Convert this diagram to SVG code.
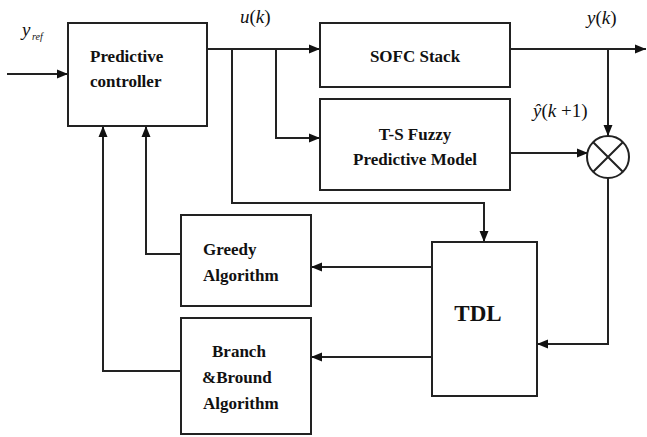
<svg xmlns="http://www.w3.org/2000/svg" width="647" height="437" viewBox="0 0 647 437">
<style>
.box{fill:#fff;stroke:#222;stroke-width:2}
.ln{fill:none;stroke:#222;stroke-width:2}
</style>
<defs>
<marker id="ar" markerUnits="userSpaceOnUse" markerWidth="12" markerHeight="10" refX="11" refY="5" orient="auto">
<path d="M0,0.5 L11,5 L0,9.5 z" fill="#111"/>
</marker>
</defs>
<rect width="647" height="437" fill="#fff"/>
<g id="connectors">
<path class="ln" d="M7,74 H68" marker-end="url(#ar)"/>
<path class="ln" d="M207,49 H320" marker-end="url(#ar)"/>
<path class="ln" d="M232,49 V203 H484 V242" marker-end="url(#ar)"/>
<path class="ln" d="M276,49 V138 H320" marker-end="url(#ar)"/>
<path class="ln" d="M510,49 H646" marker-end="url(#ar)"/>
<path class="ln" d="M608,49 V136" marker-end="url(#ar)"/>
<path class="ln" d="M510,153 H588" marker-end="url(#ar)"/>
<path class="ln" d="M608,178 V344 H537" marker-end="url(#ar)"/>
<path class="ln" d="M432,267 H311" marker-end="url(#ar)"/>
<path class="ln" d="M432,357 H311" marker-end="url(#ar)"/>
<path class="ln" d="M181,254 H146 V126" marker-end="url(#ar)"/>
<path class="ln" d="M181,371 H103 V126" marker-end="url(#ar)"/>
</g>
<g id="labels" font-family="Liberation Serif, Times New Roman, serif" font-size="19" fill="#111">
<text x="22" y="36" font-style="italic">y</text>
<text x="32" y="40" font-style="italic" font-size="10">ref</text>
<text x="240" y="23"><tspan font-style="italic">u</tspan>(<tspan font-style="italic">k</tspan>)</text>
<text x="587" y="24"><tspan font-style="italic">y</tspan>(<tspan font-style="italic">k</tspan>)</text>
<text x="533" y="117"><tspan font-style="italic">ŷ</tspan>(<tspan font-style="italic">k</tspan> +1)</text>
</g>
<g font-family="Liberation Serif, Times New Roman, serif" font-weight="bold" font-size="17" fill="#111">
<g id="predictive-controller">
<rect class="box" x="68" y="23" width="139" height="103"/>
<text x="90" y="62">Predictive</text>
<text x="90" y="87">controller</text>
</g>
<g id="sofc-stack">
<rect class="box" x="320" y="23" width="190" height="64"/>
<text x="415" y="62" text-anchor="middle">SOFC Stack</text>
</g>
<g id="ts-fuzzy">
<rect class="box" x="320" y="99" width="190" height="91"/>
<text x="415" y="140" text-anchor="middle">T-S Fuzzy</text>
<text x="415" y="165" text-anchor="middle">Predictive Model</text>
</g>
<g id="comparator">
<circle cx="608" cy="157" r="21" fill="#fff" stroke="#222" stroke-width="2"/>
<path class="ln" d="M593.2,142.2 L622.8,171.8 M622.8,142.2 L593.2,171.8"/>
</g>
<g id="tdl">
<rect class="box" x="432" y="242" width="105" height="154"/>
<text x="478" y="321" text-anchor="middle" font-size="23">TDL</text>
</g>
<g id="greedy">
<rect class="box" x="181" y="215" width="130" height="91"/>
<text x="203" y="255">Greedy</text>
<text x="203" y="281">Algorithm</text>
</g>
<g id="branch-bound">
<rect class="box" x="181" y="318" width="130" height="116"/>
<text x="212" y="357">Branch</text>
<text x="202" y="383">&amp;Bround</text>
<text x="203" y="409">Algorithm</text>
</g>
</g>
</svg>
